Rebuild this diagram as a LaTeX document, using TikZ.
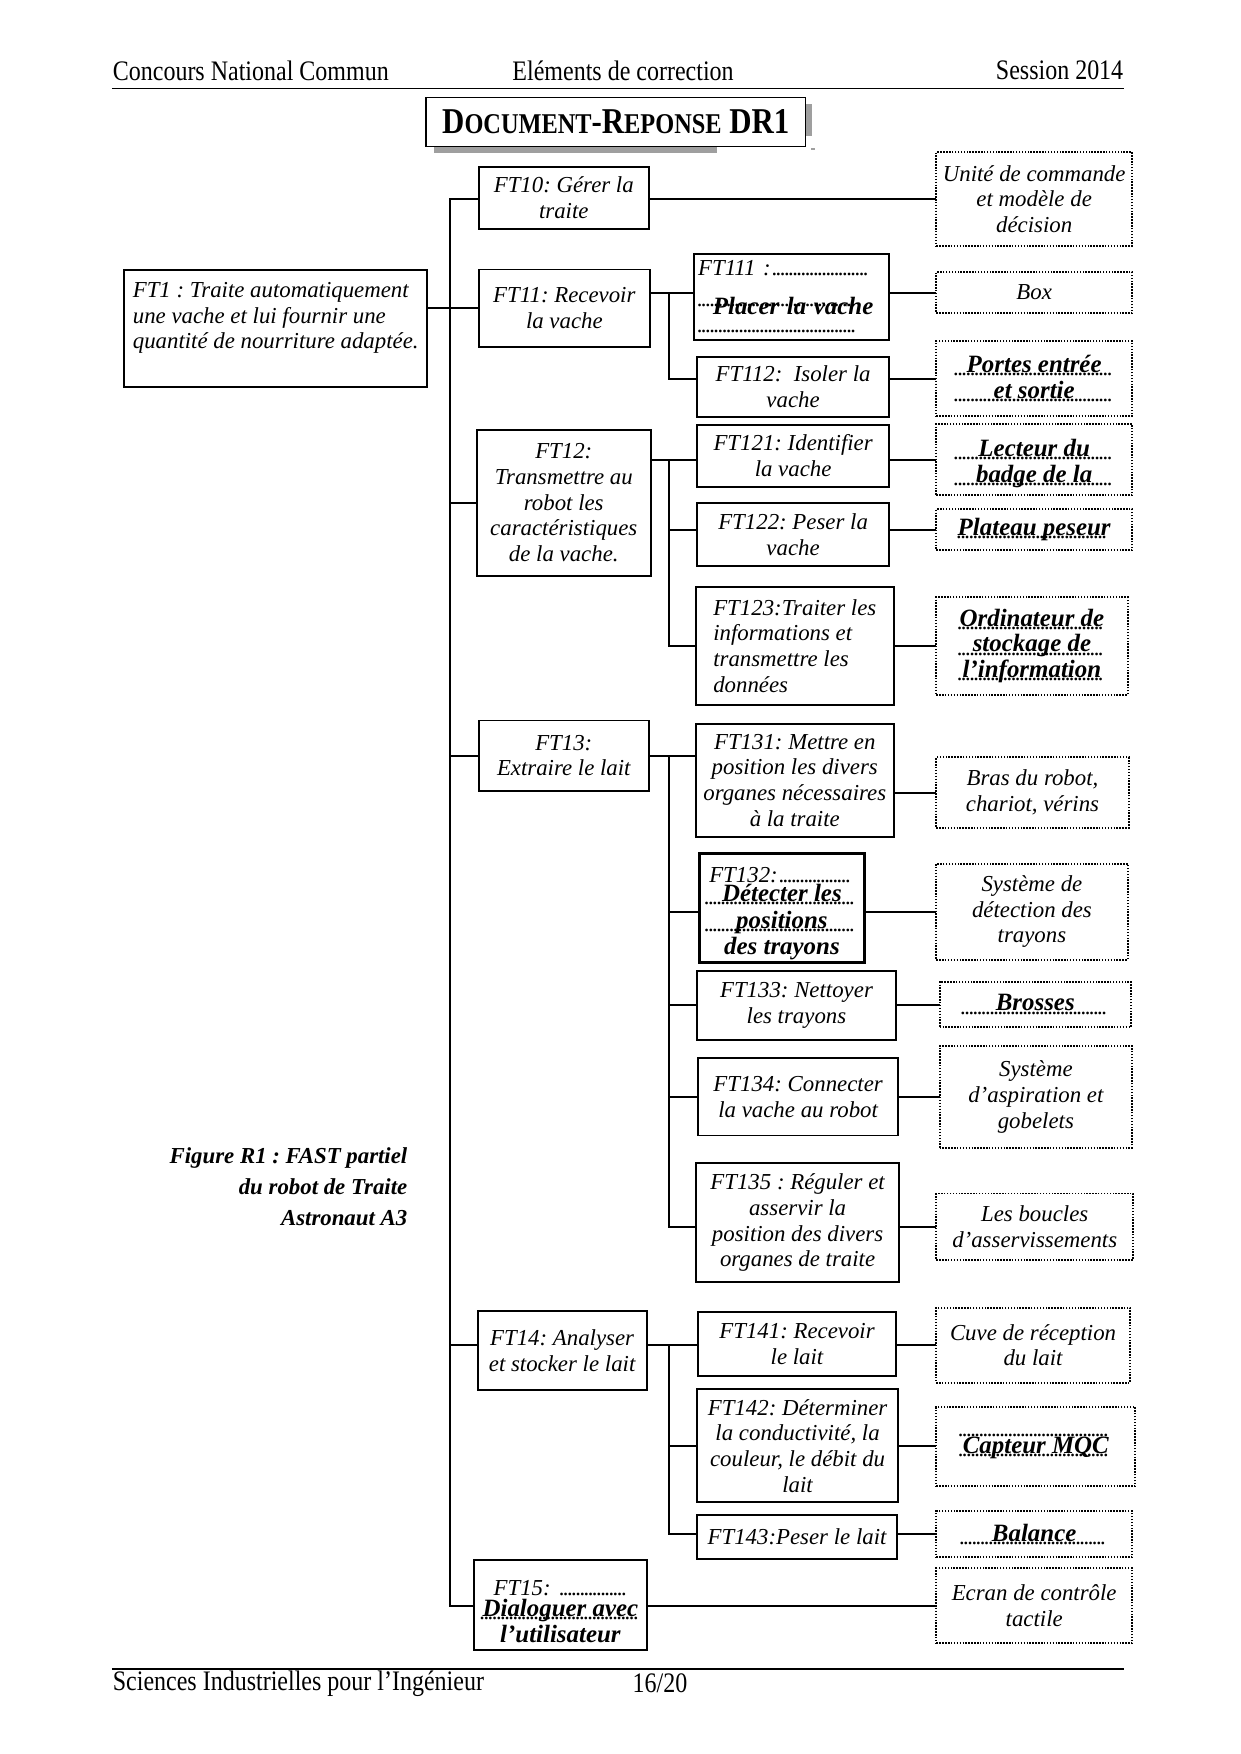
\documentclass[tikz,border=0pt]{standalone}
\usepackage{fontspec}
\setmainfont{Liberation Serif}
\usepackage{graphicx}
\frenchspacing
\newcommand{\pts}[1]{\leavevmode\leaders\hbox to 2pt{\hss.\hss}\hskip #1\relax\hbox{}}
\newcommand{\rep}[2]{\leavevmode\rlap{\raisebox{-1.5pt}{\pts{#1}}}\makebox[#1]{\bfseries\fontsize{12}{12.4}\selectfont #2}}
\newcommand{\repb}[1]{{\bfseries\fontsize{12}{12.4}\selectfont #1}}
\newcommand{\pc}[1]{{\fontsize{13.8}{16}\selectfont #1}}
\tikzset{
  wh/.style 2 args={minimum width=#1mm, minimum height=#2mm},
  fct/.style={draw, line width=0.95pt, line cap=butt, inner sep=1pt, align=center,
    font=\itshape\fontsize{11}{12.4}\selectfont},
  sol/.style={fct, dash pattern=on 0.7pt off 0.7pt},
  entete/.style={inner sep=0pt, font=\fontsize{13.6}{15}\selectfont},
}
\begin{document}
\begin{tikzpicture}[x=0.18941mm, y=-0.18941mm, line width=0.95pt, line cap=rect]
\fill[white] (0,0) rectangle (1109,1568);
\useasboundingbox (0,0) rectangle (1109,1568);

% en-tete et pied de page
\node[entete, anchor=west] (concours) at (100,63) {\scalebox{0.85}[1]{Concours National Commun}};
\node[entete] (elements) at (557,63) {\scalebox{0.85}[1]{Eléments de correction}};
\node[entete, anchor=east] (session) at (1005,63) {\scalebox{0.85}[1]{Session 2014}};
\draw[line width=0.8pt, line cap=butt] (100,79) -- (1005,79);
\draw[line width=0.8pt, line cap=butt] (100,1492) -- (1005,1492);
\node[entete, anchor=west] (sii) at (100,1505) {\scalebox{0.85}[1]{Sciences Industrielles pour l’Ingénieur}};
\node[entete] (page) at (590,1505) {\scalebox{0.85}[1]{16/20}};

% titre
\fill[gray!75] (388,131) rectangle (641,137);
\fill[gray!75] (720,93) rectangle (726,122);
\fill[gray!75] (725,132) rectangle (729,134);
\node[draw, line width=0.8pt, fill=white, inner sep=0pt, wh={64.2}{8.3}] (titre) at (550.5,109)
  {\scalebox{0.85}[1]{\bfseries\fontsize{17.5}{20}\selectfont D\pc{OCUMENT}-R\pc{EPONSE} DR1}};

% legende
\node[anchor=east, align=right, inner sep=0pt, font=\bfseries\itshape\fontsize{11}{15}\selectfont] (legende) at (365,1061)
  {Figure R1 : FAST partiel\\du robot de Traite\\Astronaut A3};

% fonctions
\node[fct, align=left, wh={51.3}{19.9}] (FT1) at (246.5,293.5)
  {FT1 : Traite automatiquement\\une vache et lui fournir une\\quantité de nourriture adaptée.\\\mbox{}};
\node[fct, wh={28.8}{10.6}] (FT10) at (504,177) {FT10: Gérer la\\traite};
\node[fct, wh={29.0}{13.1}] (FT11) at (504.5,275.5) {FT11: Recevoir\\la vache};
\node[fct, wh={29.5}{24.8}] (FT12) at (504,449.5) {FT12:\\Transmettre au\\robot les\\caractéristiques\\de la vache.};
\node[fct, wh={28.8}{11.9}] (FT13) at (504,675.5) {FT13:\\Extraire le lait};
\node[fct, wh={28.6}{13.4}] (FT14) at (502.5,1207.5) {FT14: Analyser\\et stocker le lait};
\node[fct, wh={29.2}{15.2}] (FT15) at (501,1435)
  {\rule{0pt}{13pt}FT15: \pts{12mm}\\[-2.2pt]\rep{27mm}{Dialoguer avec}\\\repb{l’utilisateur}};

\node[fct, align=left, text width=31.6mm, wh={33.1}{14.6}] (FT111) at (707.5,265.5)
  {FT111 :\pts{17mm}\\[6.4pt]\leavevmode\rlap{\raisebox{4pt}{\pts{27mm}}}\hspace{2.5mm}\repb{Placer la vache}\\[-3.8pt]\pts{27mm}};
\node[fct, wh={32.6}{10.2}] (FT112) at (709,346) {FT112:~~Isoler la\\vache};
\node[fct, wh={32.6}{10.4}] (FT121) at (709,407.5) {FT121: Identifier\\la vache};
\node[fct, wh={32.6}{10.6}] (FT122) at (709,478) {FT122: Peser la\\vache};
\node[fct, align=left, wh={33.5}{19.9}] (FT123) at (710.5,577.5)
  {FT123:Traiter les\\informations et\\transmettre les\\données};
\node[fct, wh={33.5}{19.1}] (FT131) at (710.5,697.5)
  {FT131: Mettre en\\position les divers\\organes nécessaires\\à la traite};
\node[fct, line width=1.4pt, wh={28.0}{17.6}] (FT132) at (699,811.5)
  {\rule{0pt}{13pt}FT132:\pts{13mm}\\[-3.3pt]\rep{26mm}{Détecter les}\\[0.5pt]\rep{26mm}{positions}\\[0.5pt]\repb{des trayons}};
\node[fct, wh={33.7}{11.7}] (FT133) at (712,899) {FT133: Nettoyer\\les trayons};
\node[fct, wh={33.9}{13.1}] (FT134) at (713.5,980.5) {FT134: Connecter\\la vache au robot};
\node[fct, wh={34.5}{20.1}] (FT135) at (713,1093)
  {FT135 : Réguler et\\asservir la\\position des divers\\organes de traite};
\node[fct, wh={33.5}{10.8}] (FT141) at (712.5,1201.5) {FT141: Recevoir\\le lait};
\node[fct, wh={34.1}{19.1}] (FT142) at (713,1292.5)
  {FT142: Déterminer\\la conductivité, la\\couleur, le débit du\\lait};
\node[fct, wh={33.9}{7.6}] (FT143) at (712.5,1374) {FT143:Peser le lait};

% solutions
\node[sol, wh={33.1}{15.9}] (S10) at (924.5,178) {Unité de commande\\et modèle de\\décision};
\node[sol, wh={33.1}{7.0}] (S111) at (924.5,261.5) {Box};
\node[sol, wh={33.1}{12.7}] (S112) at (924.5,338.5) {\rep{27mm}{Portes entrée}\\\rep{27mm}{et sortie}};
\node[sol, wh={33.1}{12.1}] (S121) at (924.5,411) {\rule{0pt}{12pt}\rep{27mm}{Lecteur du}\\\rep{27mm}{badge de la}};
\node[sol, wh={33.1}{7.0}] (S122) at (924.5,473.5) {\rep{26mm}{Plateau peseur}};
\node[sol, wh={32.4}{16.5}] (S123) at (922.5,577.5)
  {\rep{25mm}{Ordinateur de}\\\rep{25mm}{stockage de}\\\rep{25mm}{l’information}};
\node[sol, wh={32.6}{11.9}] (S131) at (923,708.5) {Bras du robot,\\chariot, vérins};
\node[sol, wh={32.4}{16.3}] (S132) at (922.5,815) {Système de\\détection des\\trayons};
\node[sol, wh={32.4}{7.6}] (S133) at (925.5,898) {\rep{25mm}{Brosses}};
\node[sol, wh={32.6}{17.2}] (S134) at (926,980.5) {Système\\d’aspiration et\\gobelets};
\node[sol, wh={33.3}{11.2}] (S135) at (925,1096.5) {Les boucles\\d’asservissements};
\node[sol, wh={32.8}{12.7}] (S141) at (923.5,1202.5) {Cuve de réception\\du lait};
\node[sol, wh={33.7}{13.3}] (S142) at (926,1293) {\pts{26mm}\\[-4.4pt]\rep{26mm}{Capteur MQC}};
\node[sol, wh={33.1}{7.8}] (S143) at (924.5,1371.5) {\rep{25mm}{Balance}};
\node[sol, wh={33.1}{12.7}] (S15) at (924.5,1435.5) {Ecran de contrôle\\tactile};

% liaisons
\coordinate (bus1) at (402,0);
\coordinate (bus2) at (598,0);
\draw (FT1.east |- FT11.west) -- (FT11.west);
\draw (bus1 |- S10.west) -- (bus1 |- S15.west);
\draw (bus1 |- S10.west) -- (FT10.west |- S10.west);
\draw (FT10.east |- S10.west) -- (S10.west);
\foreach \f in {FT12,FT13}
  \draw (bus1 |- \f.west) -- (\f.west);
\draw (bus1 |- S141.west) -- (FT14.west |- S141.west);
\draw (bus1 |- S15.west) -- (FT15.west |- S15.west);
\draw (FT15.east |- S15.west) -- (S15.west);

\draw (FT11.east |- S111.west) -- (FT111.west |- S111.west);
\draw (bus2 |- S111.west) -- (bus2 |- S112.west) -- (FT112.west |- S112.west);

\draw (FT12.east |- S121.west) -- (FT121.west |- S121.west);
\draw (bus2 |- S121.west) -- (bus2 |- S123.west);
\foreach \i in {122,123}
  \draw (bus2 |- S\i.west) -- (FT\i.west |- S\i.west);

\draw (FT13.east) -- (FT13.east -| FT131.west);
\draw (bus2 |- FT13.east) -- (bus2 |- S135.west);
\foreach \i in {132,...,135}
  \draw (bus2 |- S\i.west) -- (FT\i.west |- S\i.west);

\draw (FT14.east |- S141.west) -- (FT141.west |- S141.west);
\draw (bus2 |- S141.west) -- (bus2 |- S143.west);
\foreach \i in {142,143}
  \draw (bus2 |- S\i.west) -- (FT\i.west |- S\i.west);

\foreach \i in {111,112,121,122,123,131,132,133,134,135,141,142,143}
  \draw (FT\i.east |- S\i.west) -- (S\i.west);
\end{tikzpicture}
\end{document}
